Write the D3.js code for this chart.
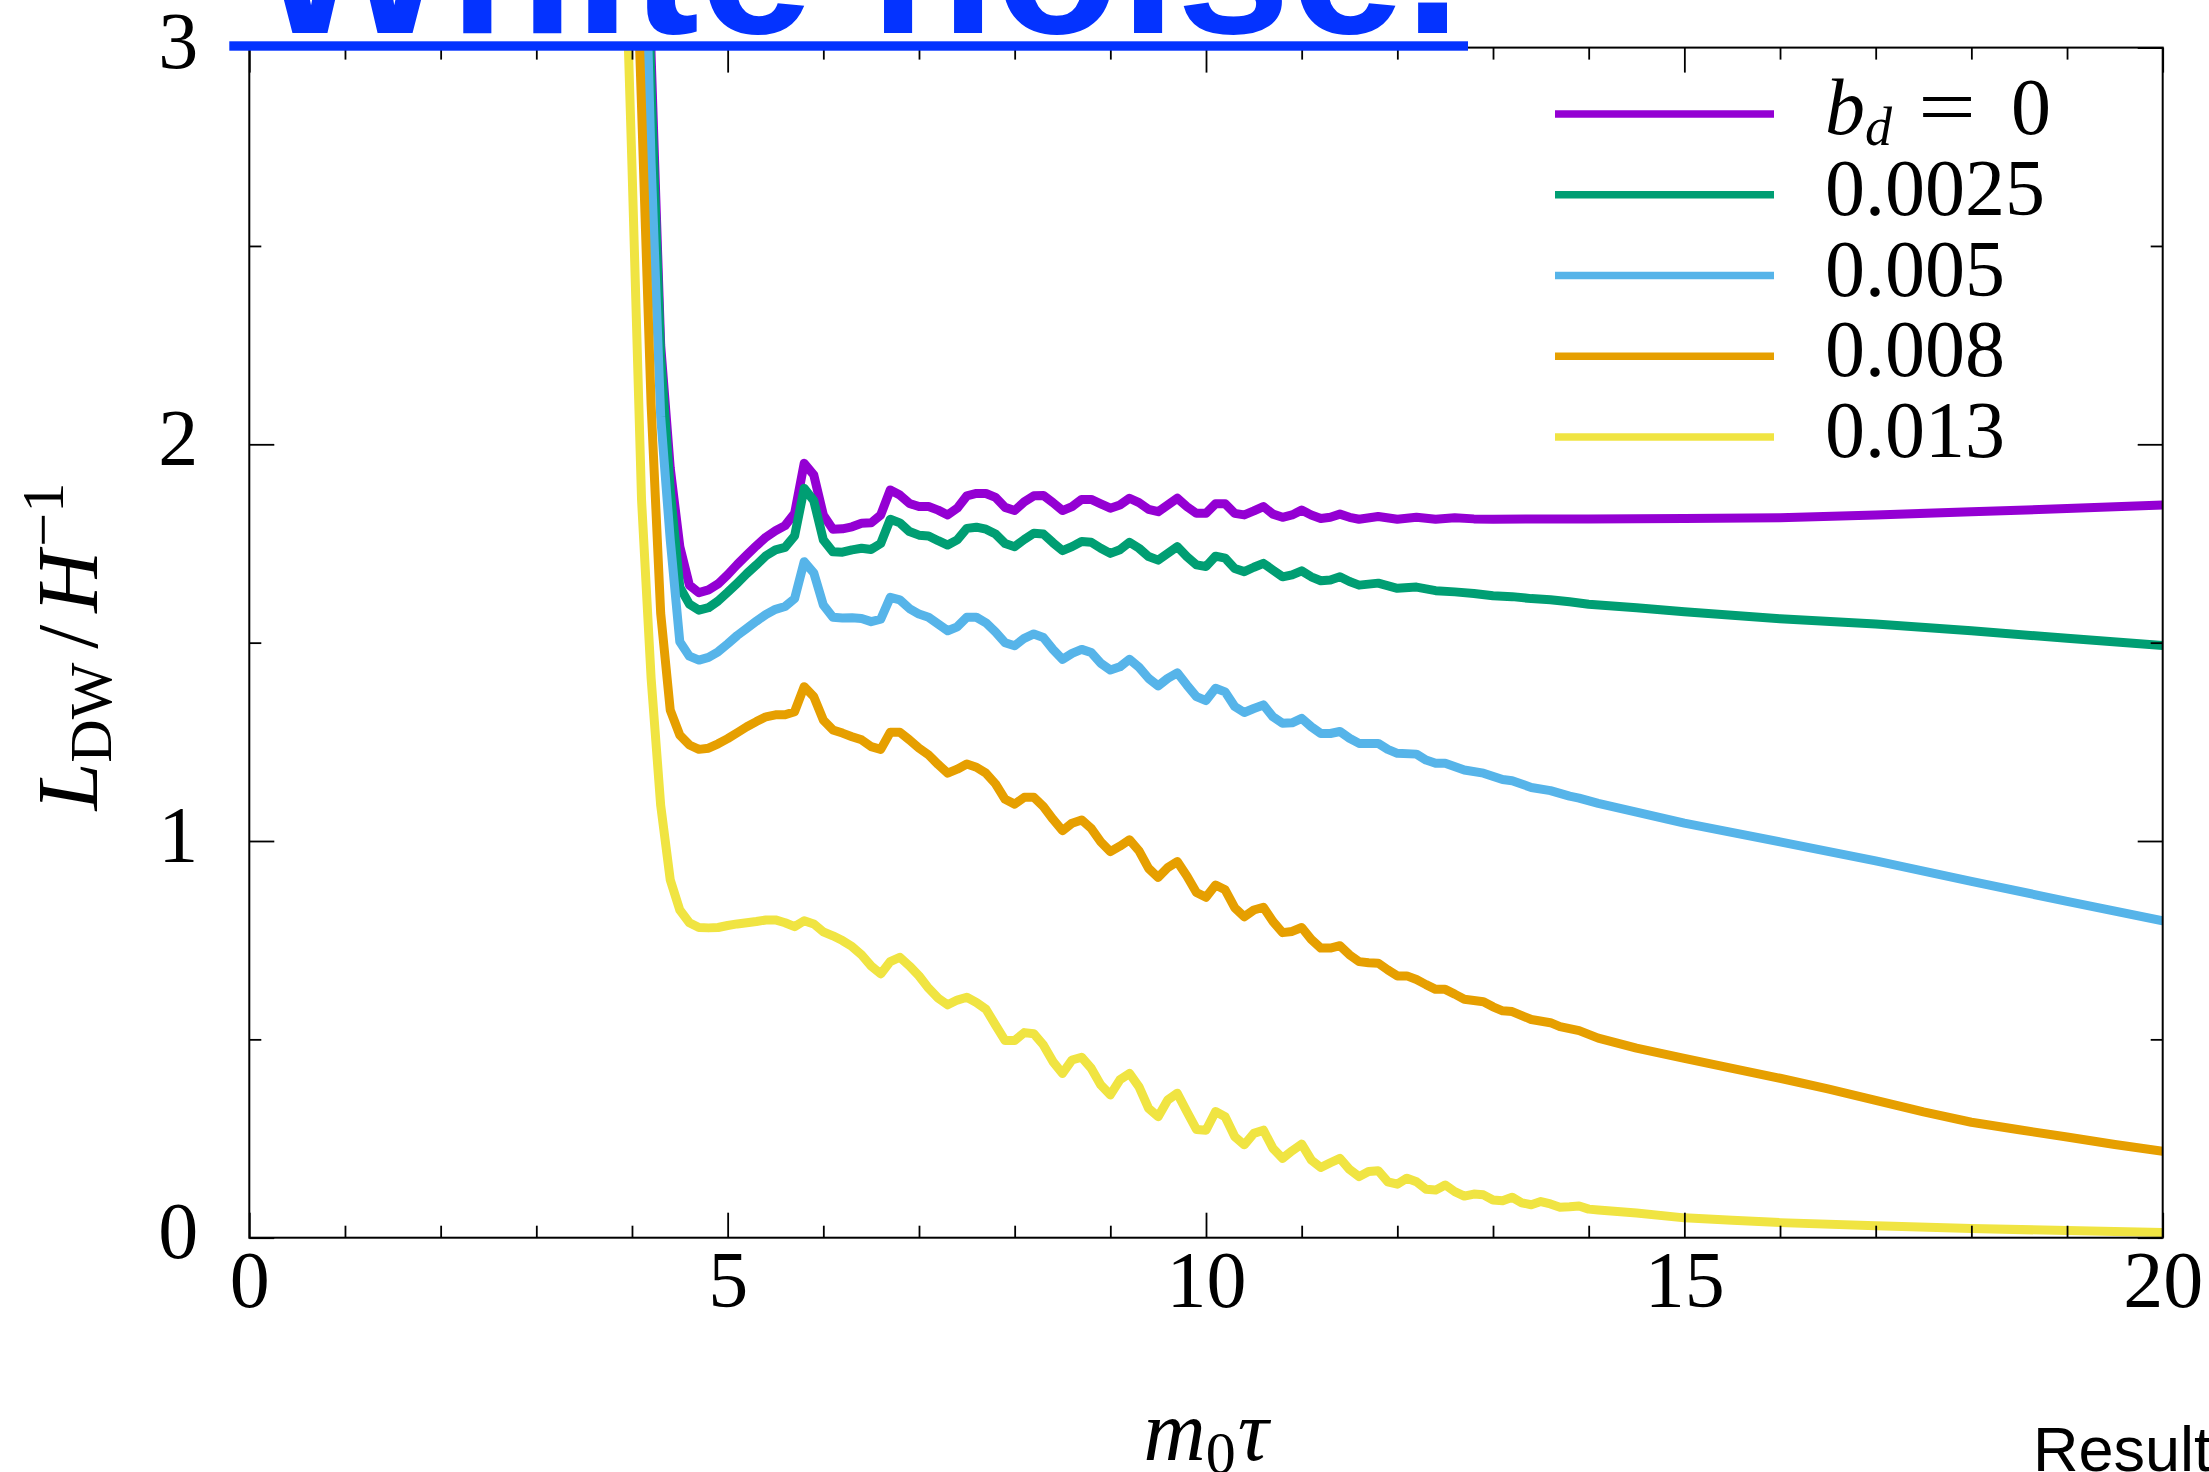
<!DOCTYPE html>
<html><head><meta charset="utf-8">
<script src="https://cdn.jsdelivr.net/npm/d3@7"></script>
<style>html,body{margin:0;padding:0;background:#fff;overflow:hidden}</style>
</head><body>
<svg id="chart" width="2209" height="1472"></svg>
<script>
// ---------- data ----------
const seriesLabels = ["0", "0.0025", "0.005", "0.008", "0.013"];
const seriesColors = ["#9400D3", "#009E73", "#56B4E9", "#E69F00", "#F0E442"];
const xTicks = [0, 5, 10, 15, 20];
const yTicks = [0, 1, 2, 3];
const xMinorTicks = [1,2,3,4,6,7,8,9,11,12,13,14,16,17,18,19];
const yMinorTicks = [0.5, 1.5, 2.5];
const titleText = "White noise.";
const footText = "Result";

const bd0 = [[4.1,3.9],[4.2,2.98],[4.3,2.25],[4.4,1.94],[4.5,1.742],[4.6,1.645],[4.7,1.626],[4.8,1.633],[4.9,1.648],[5.0,1.671],[5.1,1.697],[5.2,1.721],[5.3,1.744],[5.4,1.766],[5.5,1.782],[5.6,1.795],[5.7,1.826],[5.8,1.952],[5.9,1.923],[6.0,1.822],[6.1,1.786],[6.2,1.787],[6.3,1.792],[6.4,1.801],[6.5,1.802],[6.6,1.822],[6.7,1.885],[6.8,1.872],[6.9,1.851],[7.0,1.843],[7.1,1.843],[7.2,1.834],[7.3,1.822],[7.4,1.839],[7.5,1.870],[7.6,1.876],[7.7,1.876],[7.8,1.866],[7.9,1.841],[8.0,1.833],[8.1,1.855],[8.2,1.870],[8.3,1.871],[8.4,1.853],[8.5,1.833],[8.6,1.843],[8.7,1.861],[8.8,1.861],[8.9,1.850],[9.0,1.839],[9.1,1.847],[9.2,1.864],[9.3,1.853],[9.4,1.836],[9.5,1.830],[9.6,1.847],[9.7,1.864],[9.8,1.843],[9.9,1.826],[10.0,1.826],[10.1,1.850],[10.2,1.850],[10.3,1.826],[10.4,1.822],[10.5,1.832],[10.6,1.843],[10.7,1.824],[10.8,1.816],[10.9,1.822],[11.0,1.834],[11.1,1.822],[11.2,1.813],[11.3,1.816],[11.4,1.824],[11.5,1.816],[11.6,1.811],[11.8,1.818],[12.0,1.811],[12.2,1.816],[12.4,1.811],[12.6,1.815],[12.8,1.812],[13.0,1.811],[13.5,1.812],[14.0,1.812],[15.0,1.813],[16.0,1.815],[17.0,1.822],[18.0,1.830],[19.0,1.838],[20.0,1.847]];

const bd0025 = [[4.1,3.8],[4.2,2.90],[4.3,2.22],[4.4,1.885],[4.5,1.64],[4.6,1.597],[4.7,1.582],[4.8,1.588],[4.9,1.605],[5.0,1.627],[5.1,1.650],[5.2,1.674],[5.3,1.696],[5.4,1.719],[5.5,1.734],[5.6,1.740],[5.7,1.769],[5.8,1.889],[5.9,1.858],[6.0,1.759],[6.1,1.729],[6.2,1.728],[6.3,1.734],[6.4,1.738],[6.5,1.735],[6.6,1.750],[6.7,1.811],[6.8,1.802],[6.9,1.780],[7.0,1.771],[7.1,1.769],[7.2,1.757],[7.3,1.746],[7.4,1.759],[7.5,1.788],[7.6,1.791],[7.7,1.786],[7.8,1.774],[7.9,1.750],[8.0,1.742],[8.1,1.760],[8.2,1.776],[8.3,1.774],[8.4,1.752],[8.5,1.732],[8.6,1.742],[8.7,1.755],[8.8,1.753],[8.9,1.738],[9.0,1.725],[9.1,1.734],[9.2,1.753],[9.3,1.738],[9.4,1.717],[9.5,1.708],[9.6,1.725],[9.7,1.742],[9.8,1.717],[9.9,1.696],[10.0,1.692],[10.1,1.718],[10.2,1.713],[10.3,1.687],[10.4,1.679],[10.5,1.690],[10.6,1.700],[10.7,1.683],[10.8,1.666],[10.9,1.671],[11.0,1.681],[11.1,1.666],[11.2,1.656],[11.3,1.658],[11.4,1.666],[11.5,1.654],[11.6,1.645],[11.8,1.650],[12.0,1.637],[12.2,1.640],[12.4,1.631],[12.6,1.628],[12.8,1.624],[13.0,1.618],[13.2,1.616],[13.4,1.611],[13.6,1.608],[13.8,1.603],[14.0,1.597],[14.5,1.588],[15.0,1.578],[16.0,1.560],[17.0,1.547],[18.0,1.530],[19.0,1.511],[20.0,1.493]];

const bd005 = [[4.1,3.6],[4.2,2.71],[4.3,2.07],[4.4,1.759],[4.5,1.502],[4.6,1.466],[4.7,1.456],[4.8,1.463],[4.9,1.477],[5.0,1.497],[5.1,1.518],[5.2,1.536],[5.3,1.554],[5.4,1.571],[5.5,1.584],[5.6,1.591],[5.7,1.611],[5.8,1.704],[5.9,1.676],[6.0,1.595],[6.1,1.564],[6.2,1.562],[6.3,1.563],[6.4,1.561],[6.5,1.553],[6.6,1.559],[6.7,1.614],[6.8,1.608],[6.9,1.586],[7.0,1.572],[7.1,1.564],[7.2,1.547],[7.3,1.530],[7.4,1.540],[7.5,1.564],[7.6,1.564],[7.7,1.550],[7.8,1.527],[7.9,1.500],[8.0,1.492],[8.1,1.511],[8.2,1.522],[8.3,1.513],[8.4,1.483],[8.5,1.458],[8.6,1.473],[8.7,1.483],[8.8,1.475],[8.9,1.448],[9.0,1.431],[9.1,1.439],[9.2,1.458],[9.3,1.438],[9.4,1.410],[9.5,1.391],[9.6,1.410],[9.7,1.424],[9.8,1.393],[9.9,1.364],[10.0,1.354],[10.1,1.385],[10.2,1.376],[10.3,1.339],[10.4,1.324],[10.5,1.334],[10.6,1.343],[10.7,1.313],[10.8,1.297],[10.9,1.298],[11.0,1.309],[11.1,1.288],[11.2,1.271],[11.3,1.271],[11.4,1.276],[11.5,1.259],[11.6,1.246],[11.8,1.246],[11.9,1.231],[12.0,1.221],[12.2,1.219],[12.3,1.204],[12.4,1.196],[12.5,1.196],[12.7,1.179],[12.9,1.171],[13.1,1.155],[13.2,1.152],[13.4,1.135],[13.6,1.127],[13.8,1.113],[13.9,1.108],[14.1,1.095],[14.5,1.073],[15.0,1.045],[16.0,0.998],[17.0,0.950],[18.0,0.898],[19.0,0.848],[20.0,0.799]];

const bd008 = [[4.0,3.6],[4.1,2.85],[4.2,2.10],[4.3,1.574],[4.4,1.330],[4.5,1.267],[4.6,1.242],[4.7,1.231],[4.8,1.234],[4.9,1.245],[5.0,1.258],[5.1,1.273],[5.2,1.288],[5.3,1.301],[5.4,1.313],[5.5,1.318],[5.6,1.318],[5.7,1.326],[5.8,1.389],[5.9,1.364],[6.0,1.305],[6.1,1.280],[6.2,1.272],[6.3,1.263],[6.4,1.255],[6.5,1.238],[6.6,1.231],[6.7,1.274],[6.8,1.274],[6.9,1.255],[7.0,1.234],[7.1,1.217],[7.2,1.193],[7.3,1.171],[7.4,1.181],[7.5,1.194],[7.6,1.186],[7.7,1.171],[7.8,1.144],[7.9,1.105],[8.0,1.093],[8.1,1.110],[8.2,1.110],[8.3,1.087],[8.4,1.055],[8.5,1.026],[8.6,1.045],[8.7,1.053],[8.8,1.032],[8.9,0.998],[9.0,0.973],[9.1,0.987],[9.2,1.003],[9.3,0.975],[9.4,0.931],[9.5,0.908],[9.6,0.933],[9.7,0.948],[9.8,0.912],[9.9,0.870],[10.0,0.858],[10.1,0.889],[10.2,0.877],[10.3,0.832],[10.4,0.809],[10.5,0.826],[10.6,0.833],[10.7,0.797],[10.8,0.769],[10.9,0.772],[11.0,0.782],[11.1,0.752],[11.2,0.730],[11.3,0.730],[11.4,0.736],[11.5,0.713],[11.6,0.696],[11.7,0.693],[11.8,0.692],[11.9,0.675],[12.0,0.660],[12.1,0.660],[12.2,0.651],[12.3,0.638],[12.4,0.626],[12.5,0.626],[12.6,0.614],[12.7,0.601],[12.9,0.595],[13.0,0.582],[13.1,0.572],[13.2,0.570],[13.4,0.550],[13.6,0.542],[13.7,0.532],[13.9,0.522],[14.1,0.503],[14.5,0.478],[15.0,0.452],[15.5,0.427],[16.0,0.402],[16.5,0.375],[17.0,0.346],[17.5,0.317],[18.0,0.291],[18.5,0.272],[19.0,0.254],[19.5,0.235],[20.0,0.218]];

const bd013 = [[3.9,3.5],[4.0,2.70],[4.1,1.86],[4.2,1.41],[4.3,1.09],[4.4,0.902],[4.5,0.826],[4.6,0.794],[4.7,0.782],[4.8,0.781],[4.9,0.782],[5.0,0.787],[5.1,0.791],[5.2,0.794],[5.3,0.797],[5.4,0.801],[5.5,0.801],[5.6,0.794],[5.7,0.784],[5.8,0.799],[5.9,0.791],[6.0,0.771],[6.1,0.761],[6.2,0.749],[6.3,0.734],[6.4,0.713],[6.5,0.685],[6.6,0.665],[6.7,0.696],[6.8,0.707],[6.9,0.685],[7.0,0.660],[7.1,0.629],[7.2,0.604],[7.3,0.587],[7.4,0.599],[7.5,0.606],[7.6,0.593],[7.7,0.576],[7.8,0.536],[7.9,0.497],[8.0,0.497],[8.1,0.517],[8.2,0.514],[8.3,0.486],[8.4,0.444],[8.5,0.414],[8.6,0.448],[8.7,0.455],[8.8,0.427],[8.9,0.385],[9.0,0.360],[9.1,0.398],[9.2,0.414],[9.3,0.380],[9.4,0.326],[9.5,0.305],[9.6,0.347],[9.7,0.364],[9.8,0.318],[9.9,0.273],[10.0,0.271],[10.1,0.318],[10.2,0.305],[10.3,0.255],[10.4,0.234],[10.5,0.263],[10.6,0.271],[10.7,0.225],[10.8,0.200],[10.9,0.219],[11.0,0.236],[11.1,0.196],[11.2,0.177],[11.3,0.189],[11.4,0.200],[11.5,0.172],[11.6,0.154],[11.7,0.167],[11.8,0.169],[11.9,0.141],[12.0,0.135],[12.1,0.150],[12.2,0.141],[12.3,0.122],[12.4,0.120],[12.5,0.133],[12.6,0.116],[12.7,0.105],[12.8,0.110],[12.9,0.108],[13.0,0.095],[13.1,0.093],[13.2,0.102],[13.3,0.088],[13.4,0.083],[13.5,0.091],[13.6,0.085],[13.7,0.077],[13.8,0.078],[13.9,0.080],[14.0,0.072],[14.1,0.070],[14.5,0.062],[15.0,0.050],[15.5,0.044],[16.0,0.038],[17.0,0.030],[18.0,0.023],[19.0,0.018],[20.0,0.013]];

const seriesData = [bd0, bd0025, bd005, bd008, bd013];

// ---------- layout ----------
const W = 2209, H = 1472;
const plot = {left: 249.3, right: 2162.7, top: 47.6, bottom: 1237.7};
const serif = "'Liberation Serif', 'Times New Roman', serif";
const fs = 80;

const svg = d3.select("#chart");
svg.append("rect").attr("width", W).attr("height", H).attr("fill", "#fff");

const x = d3.scaleLinear().domain([0, 20]).range([plot.left, plot.right]);
const y = d3.scaleLinear().domain([0, 3]).range([plot.bottom, plot.top]);

svg.append("clipPath").attr("id", "pc").append("rect")
  .attr("x", plot.left).attr("y", plot.top)
  .attr("width", plot.right - plot.left).attr("height", plot.bottom - plot.top);

// series
const line = d3.line().x(d => x(d[0])).y(d => y(d[1]));
const lg = svg.append("g").attr("clip-path", "url(#pc)");
seriesData.forEach((s, i) => {
  lg.append("path").datum(s).attr("d", line)
    .attr("fill", "none").attr("stroke", seriesColors[i])
    .attr("stroke-width", 9).attr("stroke-linejoin", "round").attr("stroke-linecap", "butt");
});

// axes (ticks pointing inward)
function styleAxis(g) {
  g.select(".domain").remove();
  g.selectAll(".tick line").attr("stroke", "#000").attr("stroke-width", 1.8);
  g.selectAll(".tick text").attr("font-family", serif).attr("font-size", fs).attr("fill", "#000");
}
const axB = svg.append("g").attr("transform", `translate(0,${plot.bottom})`)
  .call(d3.axisBottom(x).tickValues(xTicks).tickSize(-25).tickSizeOuter(0).tickPadding(12).tickFormat(d3.format("d")));
styleAxis(axB);
axB.selectAll(".tick text").attr("dy", "0.71em");
svg.append("g").attr("transform", `translate(0,${plot.bottom})`)
  .call(d3.axisBottom(x).tickValues(xMinorTicks).tickSize(-12).tickSizeOuter(0).tickFormat(""))
  .call(styleAxis);
svg.append("g").attr("transform", `translate(0,${plot.top})`)
  .call(d3.axisTop(x).tickValues(xTicks).tickSize(-25).tickSizeOuter(0).tickFormat(""))
  .call(styleAxis);
svg.append("g").attr("transform", `translate(0,${plot.top})`)
  .call(d3.axisTop(x).tickValues(xMinorTicks).tickSize(-12).tickSizeOuter(0).tickFormat(""))
  .call(styleAxis);

const axL = svg.append("g").attr("transform", `translate(${plot.left},0)`)
  .call(d3.axisLeft(y).tickValues(yTicks).tickSize(-25).tickSizeOuter(0).tickPadding(51).tickFormat(d3.format("d")));
styleAxis(axL);
axL.selectAll(".tick text").attr("dy", "0.25em");
svg.append("g").attr("transform", `translate(${plot.left},0)`)
  .call(d3.axisLeft(y).tickValues(yMinorTicks).tickSize(-12).tickSizeOuter(0).tickFormat(""))
  .call(styleAxis);
svg.append("g").attr("transform", `translate(${plot.right},0)`)
  .call(d3.axisRight(y).tickValues(yTicks).tickSize(-25).tickSizeOuter(0).tickFormat(""))
  .call(styleAxis);
svg.append("g").attr("transform", `translate(${plot.right},0)`)
  .call(d3.axisRight(y).tickValues(yMinorTicks).tickSize(-12).tickSizeOuter(0).tickFormat(""))
  .call(styleAxis);

// frame
svg.append("rect").attr("x", plot.left).attr("y", plot.top)
  .attr("width", plot.right - plot.left).attr("height", plot.bottom - plot.top)
  .attr("fill", "none").attr("stroke", "#000").attr("stroke-width", 2);

// legend
const legX1 = 1555, legX2 = 1774, legTextX = 1825, legY0 = 114, legDy = 80.75;
seriesLabels.forEach((lab, i) => {
  const ly = legY0 + i * legDy;
  svg.append("line").attr("x1", legX1).attr("x2", legX2).attr("y1", ly).attr("y2", ly)
    .attr("stroke", seriesColors[i]).attr("stroke-width", 7.5);
  const t = svg.append("text").attr("x", legTextX).attr("y", ly + 20)
    .attr("font-family", serif).attr("font-size", fs).attr("fill", "#000");
  if (i === 0) {
    t.append("tspan").attr("font-style", "italic").text("b");
    t.append("tspan").attr("font-style", "italic").attr("font-size", 54).attr("dy", 11).text("d");
    t.append("tspan").attr("x", 1918).attr("dy", -11).attr("textLength", 58).attr("lengthAdjust", "spacingAndGlyphs").text("=");
    t.append("tspan").attr("x", 2011).text(lab);
  } else {
    t.text(lab);
  }
});

// axis titles
const xt = svg.append("text").attr("x", (plot.left + plot.right) / 2).attr("y", 1460)
  .attr("text-anchor", "middle").attr("font-family", serif).attr("font-size", 86).attr("fill", "#000");
xt.append("tspan").attr("font-style", "italic").text("m");
xt.append("tspan").attr("font-size", 60).attr("dy", 13).text("0");
xt.append("tspan").attr("font-style", "italic").attr("dy", -13).attr("dx", 2).text("τ");

const yt = svg.append("text")
  .attr("transform", `translate(97,${(plot.top + plot.bottom) / 2 + 4}) rotate(-90)`)
  .attr("text-anchor", "middle").attr("font-family", serif).attr("font-size", 86).attr("fill", "#000");
yt.append("tspan").attr("font-style", "italic").text("L");
yt.append("tspan").attr("font-size", 60).attr("dy", 14).text("DW");
yt.append("tspan").attr("dy", -14).attr("dx", 14).text("/");
yt.append("tspan").attr("font-style", "italic").attr("dx", 12).text("H");
yt.append("tspan").attr("font-size", 60).attr("dy", -34).attr("dx", 4).text("−1");

// title overlay (clipped at top of page)
const blue = "#0433FF";
svg.append("text").attr("x", 256).attr("y", 33)
  .attr("font-family", "'Liberation Sans', Arial, sans-serif").attr("font-weight", "bold")
  .attr("font-size", 205).attr("fill", blue)
  .attr("textLength", 1205).attr("lengthAdjust", "spacingAndGlyphs")
  .text(titleText);
svg.append("rect").attr("x", 229.3).attr("y", 41.3).attr("width", 1468 - 229.3).attr("height", 9.4).attr("fill", blue);

// footer text (clipped at bottom right)
svg.append("text").attr("x", 2033).attr("y", 1471)
  .attr("font-family", "'Liberation Sans', Arial, sans-serif").attr("font-size", 63).attr("fill", "#000")
  .text(footText);
</script>
</body></html>
